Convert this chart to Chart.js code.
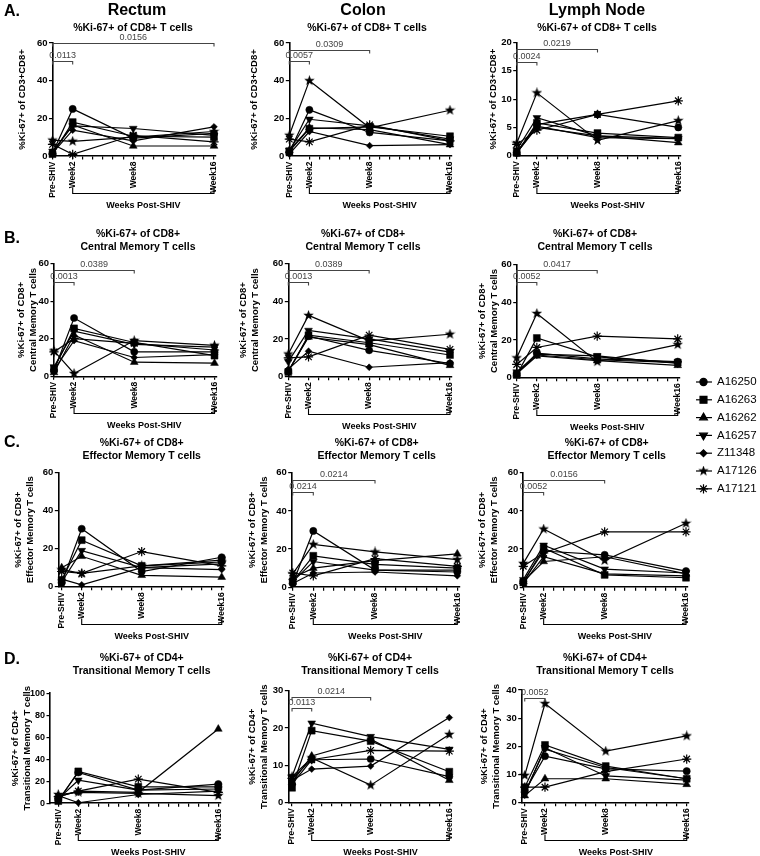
<!DOCTYPE html>
<html>
<head>
<meta charset="utf-8">
<script src="https://cdn.jsdelivr.net/npm/chart.js@4.4.1/dist/chart.umd.min.js"></script>
<style>
  body { margin: 0; background: #fff; }
  #page { position: relative; width: 760px; height: 856px; overflow: hidden; font-family: "Liberation Sans", Arial, Helvetica, sans-serif; color: #000; }
  #page canvas { position: absolute; }
  .t { position: absolute; white-space: nowrap; line-height: 1; transform: translate(-50%, -50%); }
</style>
</head>
<body>
<div id="page"></div>
<script>
const weeks = [0, 2, 8, 16];
const weekLabels = ['Pre-SHIV', 'Week2', 'Week8', 'Week16'];
const animals = ['A16250', 'A16263', 'A16262', 'A16257', 'Z11348', 'A17126', 'A17121'];

// %Ki-67+ per animal (rows follow animals, columns follow weeks)
const rectumCD8 = [[1.5, 25, 9.5, 12], [1, 18, 10.5, 10], [2, 16.5, 5.3, 5.3], [2.5, 16, 14.6, 11], [1.5, 13.7, 8, 15.5], [8.4, 7.8, 10, 13], [6.2, 0.9, 11, 7.5]];
const colonCD8 = [[2, 24.5, 12.5, 8], [2.5, 14.5, 15.5, 10.5], [3, 15, 14, 6], [3, 19.5, 16, 9], [1, 13, 5.5, 6], [11, 40, 15, 24.3], [9, 7.5, 16.5, 8]];
const lnCD8 = [[0.5, 5.5, 7.3, 5], [0.5, 5.8, 4, 3.2], [0.5, 5, 3.5, 2.3], [1, 6.7, 3.5, 3], [0.5, 5.2, 3.2, 3], [2.2, 11.1, 2.7, 6.2], [2, 4.5, 7.3, 9.7]];
const rectumCM = [[3, 31, 13, 13], [4, 25.5, 18, 11], [2, 22, 7.5, 7], [5, 24, 17, 15.5], [3.5, 19, 10, 11.5], [13.5, 1.5, 19, 16.5], [13, 20, 17.5, 14]];
const colonCM = [[3, 21.5, 14, 7], [2.5, 22, 18, 11.5], [3, 21, 17, 6], [8, 24.5, 20, 13], [4, 13.5, 5, 7.5], [12, 32.5, 19, 22.5], [10, 10.5, 22, 14.5]];
const lnCM = [[2, 13, 10, 8.5], [1.5, 21, 11, 8], [2, 11.5, 9, 6.5], [3, 12.5, 11.5, 7.5], [2.5, 12, 9.5, 8], [10.5, 34, 8.5, 17.5], [7, 16, 22, 20.5]];
const rectumEM = [[2, 30.5, 8, 15.5], [3.5, 24.5, 11, 14], [10, 16, 6, 5], [2.5, 19, 10, 12], [4, 1, 10, 9], [9, 7, 11, 13], [8, 7, 18.5, 11]];
const colonEM = [[2, 29.5, 9, 8], [3, 16.5, 12, 10], [5, 10, 14, 17.5], [3, 13.5, 9, 9], [2, 7.5, 8, 6], [7, 22.5, 18.5, 14.5], [7.5, 6, 15, 11]];
const lnEM = [[3, 19, 17, 8.5], [2.5, 20.5, 6.5, 5], [3, 13.5, 16, 7], [4, 22, 9.5, 7.5], [2, 16, 7, 6], [12.5, 30.5, 14, 33.5], [11, 18, 29, 29]];
const rectumTM = [[3, 28, 12, 17.5], [2, 29, 15, 15], [6, 11, 10, 67.5], [4, 21, 12, 13], [7, 0.5, 8, 11], [8, 10, 9, 7], [6, 11, 22, 10]];
const colonTM = [[5, 11.5, 11.7, 7], [4, 19.3, 16.5, 8.3], [5.5, 12.5, 17, 6], [7, 21.3, 17.7, 14.3], [6, 9, 9.8, 22.8], [7, 12, 4.7, 18.3], [6.5, 11.5, 14, 13.8]];
const lnTM = [[4, 16.5, 12, 11.2], [5.5, 20.5, 13, 8.5], [2.5, 8.5, 8.5, 6.5], [3, 19.5, 9.5, 8], [3.5, 19, 12.5, 8.5], [9.7, 35.2, 18.3, 23.7], [5.5, 5.5, 11, 15.5]];

// p values: [label, week compared with Pre-SHIV]
const pRectumCD8 = [['0.0113', 2], ['0.0156', 16]];
const pColonCD8 = [['0.0057', 2], ['0.0309', 8]];
const pLnCD8 = [['0.0024', 2], ['0.0219', 8]];
const pRectumCM = [['0.0013', 2], ['0.0389', 8]];
const pColonCM = [['0.0013', 2], ['0.0389', 8]];
const pLnCM = [['0.0052', 2], ['0.0417', 8]];
const pColonEM = [['0.0214', 2], ['0.0214', 8]];
const pLnEM = [['0.0052', 2], ['0.0156', 8]];
const pColonTM = [['0.0113', 2], ['0.0214', 8]];
const pLnTM = [['0.0052', 2]];

const family = '"Liberation Sans", Arial, Helvetica, sans-serif';
Chart.defaults.font.family = family;
Chart.defaults.color = '#000';
const page = document.getElementById('page');

function starImage(size) {
  const c = document.createElement('canvas');
  c.width = c.height = size;
  const g = c.getContext('2d');
  const R = size / 2, r = R * 0.42;
  g.beginPath();
  for (let k = 0; k < 10; k++) {
    const a = -Math.PI / 2 + k * Math.PI / 5, rr = k % 2 ? r : R;
    g.lineTo(R + rr * Math.cos(a), R + rr * Math.sin(a));
  }
  g.closePath();
  g.fillStyle = '#000';
  g.fill();
  return c;
}

const markers = [
  { style: 'circle', r: 3.6 },
  { style: 'rect', r: 4.9 },
  { style: 'triangle', r: 4.5 },
  { style: 'triangle', r: 4.5, rot: 180 },
  { style: 'rectRot', r: 3.4 },
  { style: starImage(11), r: 5.5 },
  { style: 'star', r: 4.6 }
];

const titleA = ['%Ki-67+ of CD8+ T cells'];
const titleB = ['%Ki-67+ of CD8+', 'Central Memory T cells'];
const titleC = ['%Ki-67+ of CD8+', 'Effector Memory T cells'];
const titleD = ['%Ki-67+ of CD4+', 'Transitional Memory T cells'];

const panels = [
  { values: rectumCD8, pvals: pRectumCD8, yMax: 60, yStep: 20, title: titleA, yTitle: '%Ki-67+ of CD3+CD8+', axisX: 52.5, x16: 214, xMin: 0, top: 43, bottom: 156, titleX: 23, levels: [0.845, 1.0], cx: 133, ty: 27 },
  { values: colonCD8, pvals: pColonCD8, yMax: 60, yStep: 20, title: titleA, yTitle: '%Ki-67+ of CD3+CD8+', axisX: 289.3, x16: 450, xMin: 0, top: 43, bottom: 156, titleX: 255, levels: [0.837, 0.935], cx: 367, ty: 27 },
  { values: lnCD8, pvals: pLnCD8, yMax: 20, yStep: 5, title: titleA, yTitle: '%Ki-67+ of CD3+CD8+', axisX: 516.7, x16: 678.3, xMin: 0, top: 42.5, bottom: 155.7, titleX: 494, levels: [0.83, 0.94], cx: 597, ty: 27 },
  { values: rectumCM, pvals: pRectumCM, yMax: 60, yStep: 20, title: titleB, yTitle: titleB, axisX: 54, x16: 214.5, xMin: 0, top: 263.5, bottom: 376.3, titleX: 21.7, levels: [0.84, 0.946], cx: 138, ty: 233.3 },
  { values: colonCM, pvals: pColonCM, yMax: 60, yStep: 20, title: titleB, yTitle: titleB, axisX: 288.3, x16: 450, xMin: 0, top: 263.5, bottom: 376.7, titleX: 243.5, levels: [0.84, 0.946], cx: 363, ty: 233.3 },
  { values: lnCM, pvals: pLnCM, yMax: 60, yStep: 20, title: titleB, yTitle: titleB, axisX: 516.7, x16: 677.7, xMin: 0, top: 264.3, bottom: 377.7, titleX: 483, levels: [0.84, 0.946], cx: 595, ty: 233.3 },
  { values: rectumEM, pvals: [], yMax: 60, yStep: 20, title: titleC, yTitle: titleC, axisX: 58.3, x16: 221.7, xMin: -0.34, top: 472.7, bottom: 586.7, titleX: 19.3, levels: [], cx: 141.7, ty: 441.7 },
  { values: colonEM, pvals: pColonEM, yMax: 60, yStep: 20, title: titleC, yTitle: titleC, axisX: 291.7, x16: 457.3, xMin: -0.1, top: 472.7, bottom: 587.3, titleX: 253.3, levels: [0.833, 0.933], cx: 376.7, ty: 441.7 },
  { values: lnEM, pvals: pLnEM, yMax: 60, yStep: 20, title: titleC, yTitle: titleC, axisX: 523.3, x16: 686, xMin: 0, top: 472.7, bottom: 587.3, titleX: 483, levels: [0.833, 0.933], cx: 606.7, ty: 441.7 },
  { values: rectumTM, pvals: [], yMax: 100, yStep: 20, title: titleD, yTitle: titleD, axisX: 50, x16: 218.3, xMin: -0.83, top: 693.3, bottom: 803.3, titleX: 15.5, levels: [], cx: 141.7, ty: 657, tickSize: 9 },
  { values: colonTM, pvals: pColonTM, yMax: 30, yStep: 10, title: titleD, yTitle: titleD, axisX: 288.3, x16: 449.3, xMin: -0.38, top: 690.7, bottom: 802.7, titleX: 253, levels: [0.843, 0.94], cx: 370, ty: 657 },
  { values: lnTM, pvals: pLnTM, yMax: 40, yStep: 10, title: titleD, yTitle: titleD, axisX: 521.7, x16: 686.7, xMin: -0.3, top: 690, bottom: 802.7, titleX: 485, levels: [0.925], cx: 605, ty: 657 }
];

function text(str, x, y, size, weight) {
  const d = document.createElement('div');
  d.className = 't';
  d.textContent = str;
  d.style.left = x + 'px';
  d.style.top = y + 'px';
  d.style.fontSize = size + 'px';
  d.style.fontWeight = weight || 'bold';
  page.appendChild(d);
}

// significance brackets, plus the "Weeks Post-SHIV" bracket under the x axis
const marks = {
  id: 'marks',
  afterDraw(chart, args, opts) {
    const { ctx, scales: { x, y } } = chart;
    ctx.save();
    ctx.lineWidth = 1.1;
    ctx.strokeStyle = '#444';
    ctx.fillStyle = '#444';
    ctx.font = '9px ' + family;
    ctx.textAlign = 'center';
    ctx.textBaseline = 'middle';
    opts.pvals.forEach(([label, wk], i) => {
      const yy = Math.round(y.getPixelForValue(opts.levels[i] * opts.yMax)) + 0.5;
      const xa = x.getPixelForValue(0), xb = x.getPixelForValue(wk);
      ctx.beginPath();
      ctx.moveTo(xa, yy + 3); ctx.lineTo(xa, yy); ctx.lineTo(xb, yy); ctx.lineTo(xb, yy + 3);
      ctx.stroke();
      ctx.fillText(label, (xa + xb) / 2, yy - 6);
    });
    const yb = Math.round(y.getPixelForValue(0) + 37) + 0.5;
    const x2 = x.getPixelForValue(2), x16 = x.getPixelForValue(16);
    ctx.strokeStyle = '#000';
    ctx.beginPath();
    ctx.moveTo(x2, yb - 6); ctx.lineTo(x2, yb); ctx.lineTo(x16, yb); ctx.lineTo(x16, yb - 6);
    ctx.stroke();
    ctx.fillStyle = '#000';
    ctx.font = 'bold 9px ' + family;
    ctx.fillText('Weeks Post-SHIV', (x2 + x16) / 2, yb + 12);
    ctx.restore();
  }
};

const xMax = 16.2;
const tickWeeks = [0, 2, 3, 4, 5, 6, 7, 8, 9, 10, 11, 12, 13, 14, 15, 16];
const axisGrid = { display: true, drawOnChartArea: false, drawTicks: true, tickLength: 3.5, color: '#000', lineWidth: 1.2 };
const axisBorder = { display: true, color: '#000', width: 1.6 };

panels.forEach((p) => {
  const ppw = (p.x16 - p.axisX) / (16 - p.xMin);
  const right = p.axisX + (xMax - p.xMin) * ppw;
  const left = Math.round(p.titleX - 6);
  const top = Math.round(p.top) - 40;
  const w = Math.ceil(right - left + 14);
  const h = Math.ceil(p.bottom - top + 62);
  const canvas = document.createElement('canvas');
  canvas.width = w; canvas.height = h;
  canvas.style.left = left + 'px'; canvas.style.top = top + 'px';
  canvas.style.width = w + 'px'; canvas.style.height = h + 'px';
  page.appendChild(canvas);

  new Chart(canvas, {
    type: 'line',
    data: {
      datasets: animals.map((name, i) => ({
        label: name,
        data: weeks.map((wk, j) => ({ x: wk, y: p.values[i][j] })),
        borderColor: '#000', backgroundColor: '#000', borderWidth: 1.2,
        pointStyle: markers[i].style, pointRadius: markers[i].r, pointRotation: markers[i].rot || 0,
        pointBorderWidth: i === 6 ? 1.2 : 0.5, pointBorderColor: '#000', pointBackgroundColor: '#000',
        tension: 0, clip: false
      }))
    },
    options: {
      responsive: false, animation: false, events: [],
      layout: { padding: { top: p.top - top, right: w - (right - left), left: 0, bottom: 0 } },
      plugins: { legend: { display: false }, tooltip: { enabled: false }, marks: { pvals: p.pvals, levels: p.levels, yMax: p.yMax } },
      scales: {
        x: {
          type: 'linear', min: p.xMin, max: xMax,
          afterBuildTicks: (s) => { s.ticks = tickWeeks.map((v) => ({ value: v })); },
          ticks: {
            autoSkip: false, minRotation: 90, maxRotation: 90, padding: 2, color: '#000',
            font: { size: 8.5, weight: 'bold' },
            callback: (v) => { const k = weeks.indexOf(v); return k < 0 ? '' : weekLabels[k]; }
          },
          grid: axisGrid, border: axisBorder,
          afterFit: (s) => { s.height = h - (p.bottom - top); s.paddingLeft = 0; s.paddingRight = 0; }
        },
        y: {
          min: 0, max: p.yMax,
          ticks: { stepSize: p.yStep, padding: 1.5, color: '#000', font: { size: p.tickSize || 9.5, weight: 'bold' } },
          grid: axisGrid, border: axisBorder,
          title: { display: true, text: p.yTitle, color: '#000', padding: 0, font: { size: 9.5, weight: 'bold', lineHeight: 1.22 } },
          afterFit: (s) => { s.width = p.axisX - left; }
        }
      }
    },
    plugins: [marks]
  });

  p.title.forEach((line, k) => text(line, p.cx, p.ty + k * 12.8, 10.5));
});

// column and row headings
text('Rectum', 137, 10, 16);
text('Colon', 363, 10, 16);
text('Lymph Node', 597, 10, 16);
[['A.', 11], ['B.', 238], ['C.', 442], ['D.', 659]].forEach(([s, y]) => text(s, 12, y, 16));

// legend
const lg = document.createElement('canvas');
lg.width = 76; lg.height = 130;
lg.style.left = '684px'; lg.style.top = '368px';
page.appendChild(lg);
const g = lg.getContext('2d');
g.fillStyle = '#000'; g.strokeStyle = '#000';
g.font = '11.5px ' + family;
g.textBaseline = 'middle';
animals.forEach((name, i) => {
  const y = 14 + i * 17.8;
  g.lineWidth = 1.2;
  g.beginPath(); g.moveTo(12, y); g.lineTo(28, y); g.stroke();
  const m = markers[i];
  Chart.helpers.drawPoint(g, { pointStyle: m.style, radius: m.r, rotation: m.rot || 0, borderWidth: i === 6 ? 1.2 : 0.5 }, 19.5, y);
  g.fillText(name, 33, y);
});
</script>
</body>
</html>
